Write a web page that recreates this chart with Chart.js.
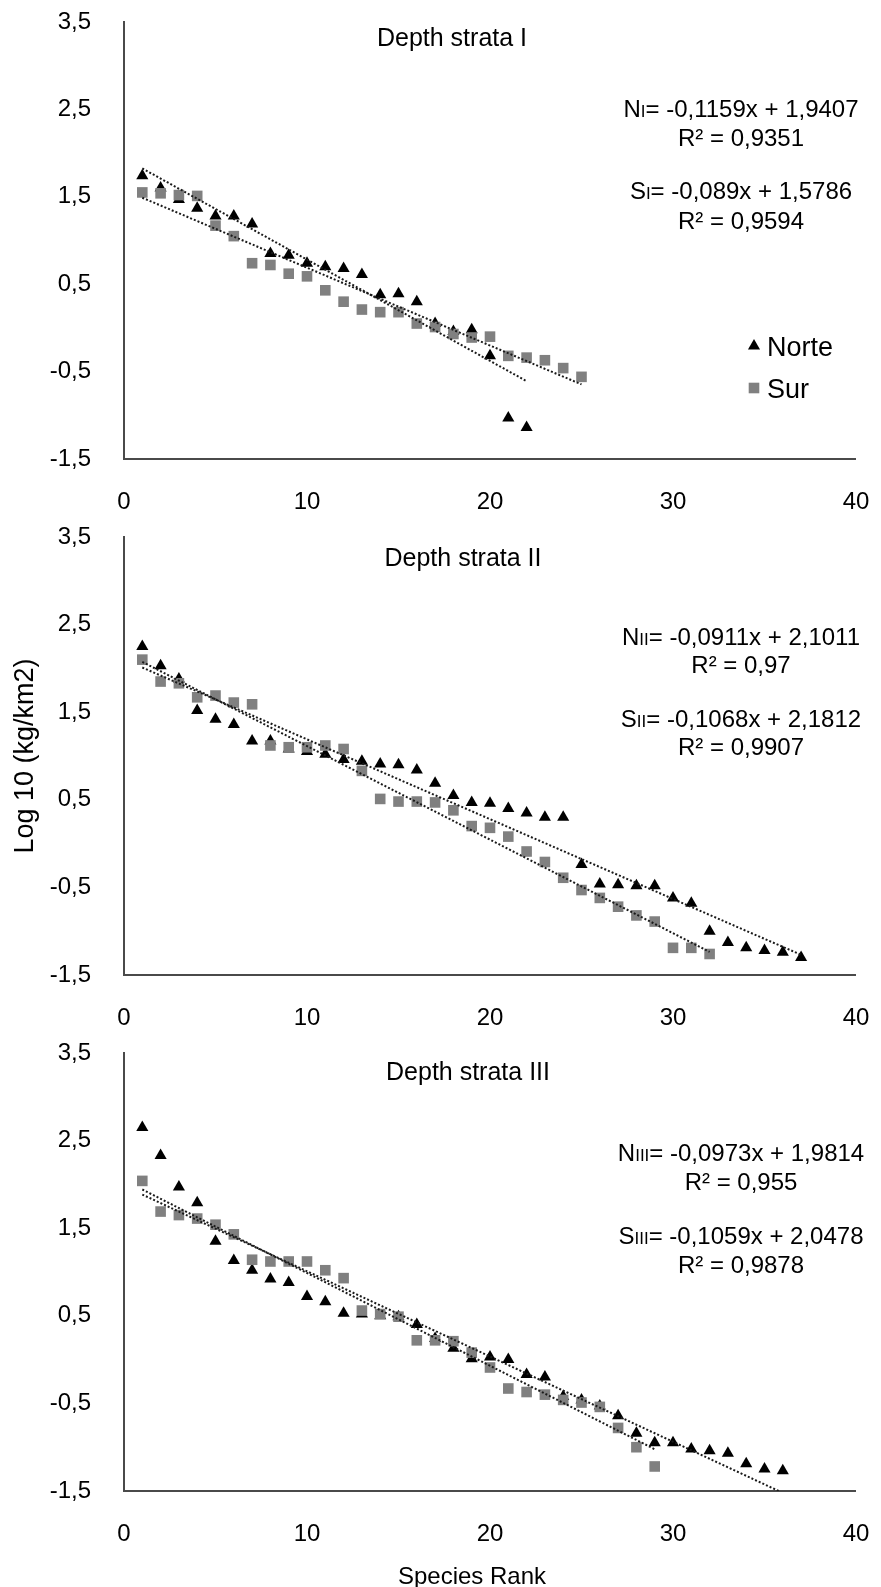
<!DOCTYPE html>
<html>
<head>
<meta charset="utf-8">
<script src="https://cdn.jsdelivr.net/npm/chart.js@4.4.0/dist/chart.umd.min.js"></script>
<style>
html,body{margin:0;padding:0;background:#fff;}
body{width:881px;height:1587px;position:relative;overflow:hidden;}
canvas{position:absolute;left:0;display:block;}
</style>
</head>
<body>
<canvas id="c1" width="881" height="520" style="top:0px"></canvas>
<canvas id="c2" width="881" height="510" style="top:520px"></canvas>
<canvas id="c3" width="881" height="557" style="top:1030px"></canvas>
<script>
// ---------------- DATA ----------------
const xTicks = [0, 10, 20, 30, 40];
const yTicks = [-1.5, -0.5, 0.5, 1.5, 2.5, 3.5];
const stratumTitles = ['Depth strata I', 'Depth strata II', 'Depth strata III'];
const stratumRoman = ['I', 'II', 'III'];
const seriesNames = ['Norte', 'Sur'];
const xAxisTitle = 'Species Rank';
const yAxisTitle = 'Log 10 (kg/km2)';

// Log10 biomass by species rank (rank = position in list, starting at 1)
const norteI = [1.74, 1.60, 1.47, 1.37, 1.28, 1.28, 1.19, 0.85, 0.83, 0.74, 0.70, 0.68, 0.61, 0.38, 0.39, 0.30, 0.05, -0.04, -0.02, -0.32, -1.03, -1.14];
const surI   = [1.55, 1.54, 1.52, 1.51, 1.17, 1.05, 0.74, 0.72, 0.62, 0.59, 0.43, 0.30, 0.21, 0.18, 0.18, 0.05, 0.01, -0.07, -0.11, -0.10, -0.32, -0.34, -0.37, -0.46, -0.56];

const norteII = [2.25, 2.03, 1.88, 1.52, 1.42, 1.36, 1.17, 1.17, 1.08, 1.05, 1.02, 0.96, 0.94, 0.91, 0.90, 0.84, 0.69, 0.55, 0.47, 0.46, 0.40, 0.35, 0.30, 0.30, -0.24, -0.46, -0.47, -0.48, -0.48, -0.62, -0.68, -1.00, -1.13, -1.19, -1.22, -1.24, -1.30];
const surII   = [2.10, 1.85, 1.83, 1.67, 1.69, 1.61, 1.59, 1.12, 1.10, 1.10, 1.12, 1.08, 0.83, 0.51, 0.48, 0.48, 0.47, 0.38, 0.20, 0.18, 0.08, -0.09, -0.21, -0.39, -0.53, -0.62, -0.72, -0.82, -0.89, -1.19, -1.19, -1.26];

const norteIII = [2.65, 2.33, 1.97, 1.79, 1.35, 1.13, 1.02, 0.92, 0.88, 0.72, 0.66, 0.53, 0.52, 0.50, 0.49, 0.40, 0.24, 0.13, 0.01, 0.03, 0.00, -0.17, -0.20, -0.42, -0.46, -0.53, -0.64, -0.84, -0.95, -0.95, -1.02, -1.04, -1.07, -1.19, -1.25, -1.27];
const surIII   = [2.04, 1.69, 1.65, 1.61, 1.54, 1.43, 1.14, 1.12, 1.12, 1.12, 1.02, 0.93, 0.56, 0.52, 0.49, 0.22, 0.22, 0.21, 0.08, -0.09, -0.33, -0.37, -0.40, -0.46, -0.49, -0.54, -0.78, -1.00, -1.22];

// Linear trend lines printed on the chart
const norteSlope     = [-0.1159, -0.0911, -0.0973];
const norteIntercept = [1.9407, 2.1011, 1.9814];
const norteR2        = [0.9351, 0.97, 0.955];
const surSlope       = [-0.089, -0.1068, -0.1059];
const surIntercept   = [1.5786, 2.1812, 2.0478];
const surR2          = [0.9594, 0.9907, 0.9878];

const norteSeries = [norteI, norteII, norteIII];
const surSeries = [surI, surII, surIII];

// ---------------- LAYOUT / STYLE ----------------
const FONT = '"Liberation Sans", Arial, Helvetica, sans-serif';
const AXIS_COLOR = '#4a4a4a';
const NORTE_COLOR = '#000000';
const SUR_COLOR = '#808080';
const TREND_COLOR = '#1a1a1a';
const EQ_X = 741;
const PLOT_LEFT = 124;
const PLOT_RIGHT = 856;
const CANVAS_W = 881;
const TRI_R = 7;
const RECT_R = 7.5;

const layout = [
  {id:'c1', top:0,    height:520, plotTop:22,   plotBottom:459,  titleX:452, titleY:37,   eqY:[108,137,190,220]},
  {id:'c2', top:520,  height:510, plotTop:537,  plotBottom:975,  titleX:463, titleY:557,  eqY:[636,664,718,746]},
  {id:'c3', top:1030, height:557, plotTop:1053, plotBottom:1491, titleX:468, titleY:1071, eqY:[1152,1181,1235,1264]}
];
const legendPos = {markerX:754, textX:767, y:[346, 388]};
const xTitlePos = {x:472, y:1575};

function fmt(n) { return String(n).replace('.', ','); }

function drawEq(ctx, letter, roman, rest, cx, cy) {
  const big = '24px ' + FONT, small = '17px ' + FONT;
  ctx.textAlign = 'left';
  ctx.textBaseline = 'alphabetic';
  ctx.font = big;
  const w1 = ctx.measureText(letter).width;
  const w3 = ctx.measureText(rest).width;
  ctx.font = small;
  const w2 = ctx.measureText(roman).width;
  let x = cx - (w1 + w2 + w3) / 2;
  const base = cy + 8.5;
  ctx.font = big; ctx.fillText(letter, x, base); x += w1;
  ctx.font = small; ctx.fillText(roman, x, base); x += w2;
  ctx.font = big; ctx.fillText(rest, x, base);
}
function drawCentered(ctx, text, cx, cy, size) {
  ctx.font = size + 'px ' + FONT;
  ctx.textAlign = 'center';
  ctx.textBaseline = 'alphabetic';
  ctx.fillText(text, cx, cy + size * 0.355);
}

const panelText = {
  id: 'panelText',
  afterDraw(chart, args, o) {
    const ctx = chart.ctx;
    const L = o.layout, k = o.k, off = L.top;
    ctx.save();
    ctx.fillStyle = '#000';
    drawCentered(ctx, stratumTitles[k], L.titleX, L.titleY - off, 25);
    drawEq(ctx, 'N', stratumRoman[k], '= ' + fmt(norteSlope[k]) + 'x + ' + fmt(norteIntercept[k]), EQ_X, L.eqY[0] - off);
    drawCentered(ctx, 'R\u00B2 = ' + fmt(norteR2[k]), EQ_X, L.eqY[1] - off, 24);
    drawEq(ctx, 'S', stratumRoman[k], '= ' + fmt(surSlope[k]) + 'x + ' + fmt(surIntercept[k]), EQ_X, L.eqY[2] - off);
    drawCentered(ctx, 'R\u00B2 = ' + fmt(surR2[k]), EQ_X, L.eqY[3] - off, 24);
    if (o.xTitle) {
      drawCentered(ctx, xAxisTitle, xTitlePos.x, xTitlePos.y - off, 24);
    }
    if (o.legend) {
      const mx = legendPos.markerX;
      let y = legendPos.y[0] - off;
      const r = TRI_R;
      ctx.fillStyle = NORTE_COLOR;
      ctx.beginPath();
      ctx.moveTo(mx, y - r);
      ctx.lineTo(mx + r * 0.866, y + r / 2);
      ctx.lineTo(mx - r * 0.866, y + r / 2);
      ctx.closePath();
      ctx.fill();
      y = legendPos.y[1] - off;
      const h = RECT_R * Math.SQRT1_2;
      ctx.fillStyle = SUR_COLOR;
      ctx.fillRect(mx - h, y - h, 2 * h, 2 * h);
      ctx.fillStyle = '#000';
      ctx.font = '27px ' + FONT;
      ctx.textAlign = 'left';
      ctx.textBaseline = 'alphabetic';
      ctx.fillText(seriesNames[0], legendPos.textX, legendPos.y[0] - off + 9.5);
      ctx.fillText(seriesNames[1], legendPos.textX, legendPos.y[1] - off + 9.5);
    }
    ctx.restore();
  }
};

function buildChart(k) {
  const L = layout[k];
  const norte = norteSeries[k], sur = surSeries[k];
  const nN = norte.length, nS = sur.length;
  const trendN = [
    {x: 1, y: norteSlope[k] * 1 + norteIntercept[k]},
    {x: nN, y: norteSlope[k] * nN + norteIntercept[k]}
  ];
  const trendS = [
    {x: 1, y: surSlope[k] * 1 + surIntercept[k]},
    {x: nS, y: surSlope[k] * nS + surIntercept[k]}
  ];
  const xScaleHeight = L.height - (L.plotBottom - L.top);
  const ctx = document.getElementById(L.id).getContext('2d');
  const hiddenGrid = (len) => ({display: true, drawOnChartArea: false, drawTicks: true, tickLength: len, tickColor: 'rgba(0,0,0,0)', color: 'rgba(0,0,0,0)', lineWidth: 0});
  return new Chart(ctx, {
    type: 'scatter',
    data: {
      datasets: [
        {label: 'trend ' + seriesNames[0], data: trendN, showLine: true, borderColor: TREND_COLOR, borderWidth: 2, borderDash: [2, 2], pointRadius: 0, fill: false},
        {label: 'trend ' + seriesNames[1], data: trendS, showLine: true, borderColor: TREND_COLOR, borderWidth: 2, borderDash: [2, 2], pointRadius: 0, fill: false},
        {label: seriesNames[1], data: sur.map((v, i) => ({x: i + 1, y: v})), pointStyle: 'rect', pointRadius: RECT_R, pointHoverRadius: RECT_R, backgroundColor: SUR_COLOR, borderWidth: 0, showLine: false},
        {label: seriesNames[0], data: norte.map((v, i) => ({x: i + 1, y: v})), pointStyle: 'triangle', pointRadius: TRI_R, pointHoverRadius: TRI_R, backgroundColor: NORTE_COLOR, borderWidth: 0, showLine: false}
      ]
    },
    options: {
      responsive: false,
      animation: false,
      events: [],
      layout: {padding: {top: L.plotTop - L.top, left: 0, right: CANVAS_W - PLOT_RIGHT, bottom: 0}},
      plugins: {
        legend: {display: false},
        tooltip: {enabled: false},
        panelText: {layout: L, k: k, legend: k === 0, xTitle: k === 2}
      },
      scales: {
        x: {
          type: 'linear', position: 'bottom', min: 0, max: 40,
          afterBuildTicks: s => { s.ticks = xTicks.map(v => ({value: v})); },
          afterFit: s => { s.height = xScaleHeight; },
          grid: hiddenGrid(29),
          border: {display: true, color: AXIS_COLOR, width: 2},
          ticks: {color: '#000', font: {family: FONT, size: 24}, padding: 0, maxRotation: 0, autoSkip: false},
          title: {display: false}
        },
        y: {
          type: 'linear', position: 'left', min: -1.5, max: 3.5,
          afterBuildTicks: s => { s.ticks = yTicks.map(v => ({value: v})); },
          afterFit: s => { s.width = PLOT_LEFT; },
          grid: hiddenGrid(33),
          border: {display: true, color: AXIS_COLOR, width: 2},
          ticks: {color: '#000', font: {family: FONT, size: 24}, padding: 0, callback: v => v.toFixed(1).replace('.', ',')},
          title: k === 1 ? {display: true, text: yAxisTitle, color: '#000', font: {family: FONT, size: 27, lineHeight: 1.2}, padding: {top: 9, bottom: 0}} : {display: false}
        }
      }
    },
    plugins: [panelText]
  });
}

for (let k = 0; k < 3; k++) buildChart(k);
</script>
</body>
</html>
